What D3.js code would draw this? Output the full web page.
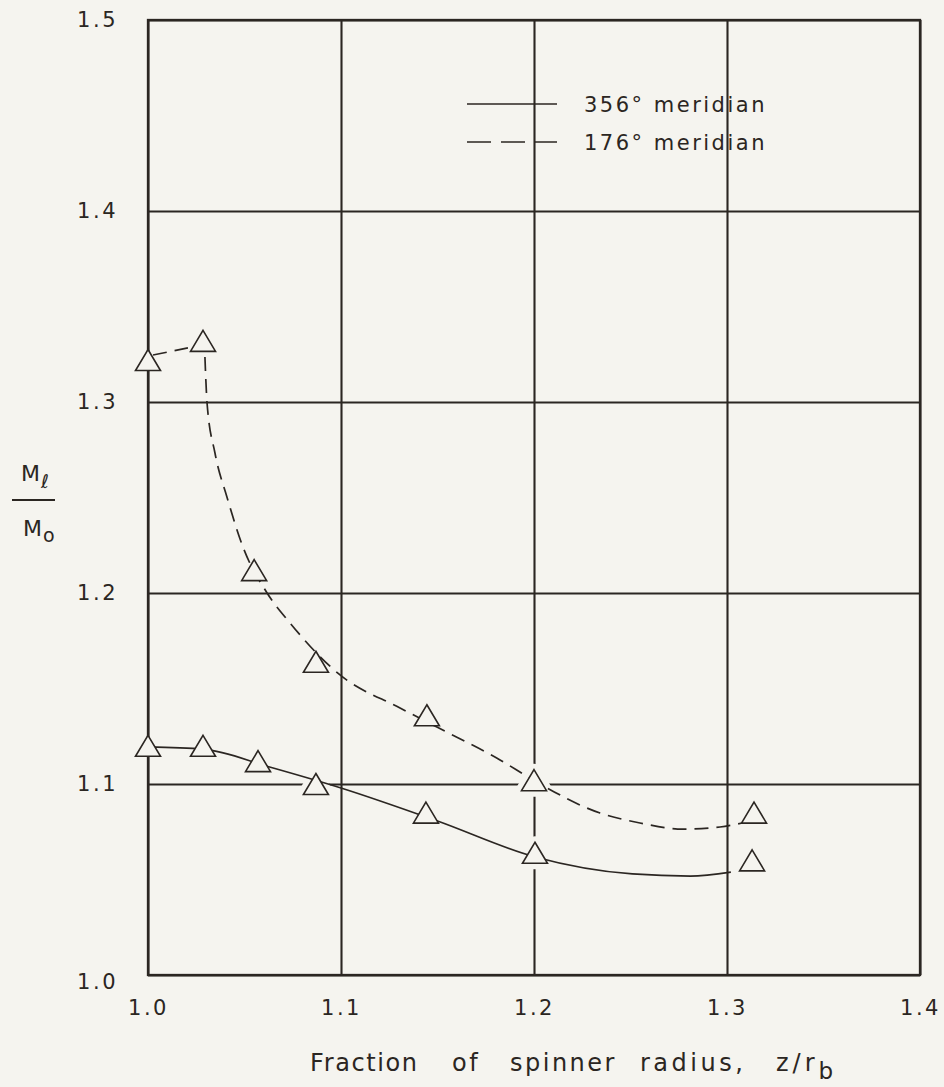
<!DOCTYPE html>
<html>
<head>
<meta charset="utf-8">
<script src="https://cdn.jsdelivr.net/npm/d3@7"></script>
<style>
  html, body { margin: 0; padding: 0; background: #f5f4ef; }
  svg { display: block; }
  text { font-family: "DejaVu Sans", sans-serif; fill: #2b2622; }
</style>
</head>
<body>
<svg id="chart" width="944" height="1087"></svg>
<script>
// Axis ticks
const xTicks = [1.0, 1.1, 1.2, 1.3, 1.4];
const yTicks = [1.0, 1.1, 1.2, 1.3, 1.4, 1.5];

// Measured points (triangles), z/r_b and M_l/M_o
const zMeasured356 = [1.000, 1.0285, 1.057, 1.087, 1.144, 1.2005, 1.313];
const mRatio356    = [1.120, 1.120, 1.112, 1.100, 1.085, 1.064, 1.060];
const zMeasured176 = [1.000, 1.0285, 1.055, 1.087, 1.1445, 1.200, 1.314];
const mRatio176    = [1.322, 1.332, 1.212, 1.164, 1.136, 1.102, 1.085];

// Faired curves through the data
const zFaired356 = [1.000, 1.0285, 1.063, 1.100, 1.150, 1.2005, 1.251, 1.281, 1.302];
const mFaired356 = [1.1194, 1.1183, 1.1089, 1.0979, 1.0806, 1.0618, 1.0529, 1.0518, 1.0539];
// 176° curve: short straight lead between the first two points, then the faired drop
const zLead176 = [1.0026, 1.0207];
const mLead176 = [1.3246, 1.3283];
const zFaired176 = [1.0295, 1.0306, 1.0347, 1.0409, 1.0492, 1.0617, 1.0736,
                    1.0995, 1.1306, 1.1497, 1.1824, 1.1995, 1.2342, 1.2549, 1.2772, 1.2964, 1.3078];
const mFaired176 = [1.3236, 1.2995, 1.2733, 1.2503, 1.2241, 1.2000, 1.1843,
                    1.1571, 1.1398, 1.1298, 1.1126, 1.1021, 1.0848, 1.0796, 1.0764, 1.0775, 1.0796];

const legendLabels = ["356\u00B0 meridian", "176\u00B0 meridian"];
const xTitleWords = ["Fraction", "of", "spinner", "radius,", "z/r"];
const xTitleSub = "b";

const BG = "#f5f4ef";
const INK = "#2b2622";

const svg = d3.select("#chart");

const x = d3.scaleLinear().domain([1.0, 1.4]).range([148, 920]);
const y = d3.scaleLinear().domain([1.0, 1.5]).range([975, 20]);

const fmt = d3.format(".1f");

// Grid + tick labels
const gx = svg.append("g")
  .attr("transform", `translate(0,${y(1.0)})`)
  .call(d3.axisBottom(x).tickValues(xTicks).tickFormat(fmt)
        .tickSize(-(y(1.0) - y(1.5))).tickPadding(25));
const gy = svg.append("g")
  .attr("transform", `translate(${x(1.0)},0)`)
  .call(d3.axisLeft(y).tickValues(yTicks).tickFormat(fmt)
        .tickSize(-(x(1.4) - x(1.0))).tickPadding(30));

[gx, gy].forEach(g => {
  g.select(".domain").remove();
  g.selectAll(".tick line").attr("stroke", INK).attr("stroke-width", 2.1);
  g.selectAll(".tick text")
    .attr("fill", INK)
    .style("font-size", "21px")
    .style("letter-spacing", "2.5px")
    .style("font-family", "\"DejaVu Sans\", sans-serif");
});
// the lowest value label sits a little under its gridline
gy.selectAll(".tick text").filter(d => d === 1.0).attr("dy", "0.62em");

// Frame
svg.append("rect")
  .attr("x", x(1.0)).attr("y", y(1.5))
  .attr("width", x(1.4) - x(1.0)).attr("height", y(1.0) - y(1.5))
  .attr("fill", "none").attr("stroke", INK).attr("stroke-width", 2.3);

// Triangle marker
const tri = "M0,-10.5 L12.5,10.5 L-12.5,10.5 Z";

const pts356 = zMeasured356.map((z, i) => [z, mRatio356[i]]);
const pts176 = zMeasured176.map((z, i) => [z, mRatio176[i]]);
const allPts = pts356.concat(pts176);

// Gridlines are broken around interior symbols
svg.append("g").selectAll("path")
  .data(allPts.filter(d => d[0] > 1.01))
  .join("path")
  .attr("d", tri)
  .attr("transform", d => `translate(${x(d[0])},${y(d[1])})`)
  .attr("fill", BG).attr("stroke", BG).attr("stroke-width", 12)
  .attr("stroke-linejoin", "round");

// Curves
const smooth = d3.line().x(d => x(d[0])).y(d => y(d[1])).curve(d3.curveMonotoneX);
const straight = d3.line().x(d => x(d[0])).y(d => y(d[1]));
const faired356 = zFaired356.map((z, i) => [z, mFaired356[i]]);
const lead176 = zLead176.map((z, i) => [z, mLead176[i]]);
const faired176 = zFaired176.map((z, i) => [z, mFaired176[i]]);

svg.append("path").attr("d", smooth(faired356))
  .attr("fill", "none").attr("stroke", INK).attr("stroke-width", 1.7);
svg.append("path").attr("d", straight(lead176))
  .attr("fill", "none").attr("stroke", INK).attr("stroke-width", 1.7)
  .attr("stroke-dasharray", "14,8");
svg.append("path").attr("d", smooth(faired176))
  .attr("fill", "none").attr("stroke", INK).attr("stroke-width", 1.7)
  .attr("stroke-dasharray", "14,8");

// Symbols
svg.append("g").selectAll("path")
  .data(allPts)
  .join("path")
  .attr("d", tri)
  .attr("transform", d => `translate(${x(d[0])},${y(d[1])})`)
  .attr("fill", BG).attr("stroke", INK).attr("stroke-width", 1.6)
  .attr("stroke-linejoin", "miter");

// Legend
const legend = svg.append("g");
const legendRows = [
  { label: legendLabels[0], dash: null, ly: 104 },
  { label: legendLabels[1], dash: "24,10", ly: 142 }
];
legendRows.forEach(r => {
  legend.append("line")
    .attr("x1", 467).attr("x2", 557).attr("y1", r.ly).attr("y2", r.ly)
    .attr("stroke", INK).attr("stroke-width", 1.7)
    .attr("stroke-dasharray", r.dash);
  legend.append("text")
    .attr("x", 584).attr("y", r.ly + 8)
    .style("font-size", "21px")
    .style("letter-spacing", "2.5px")
    .text(r.label);
});

// X axis title, words spread across the bottom in wide lettering
const titleX = [310, 452, 510, 640, 776];
const titleSpacing = [1.6, 2.5, 2.5, 3.5, 4];
const xt = svg.append("text")
  .attr("y", 1071)
  .style("font-size", "24px");
xTitleWords.forEach((w, i) => {
  xt.append("tspan")
    .attr("x", titleX[i]).attr("y", 1071)
    .style("letter-spacing", titleSpacing[i] + "px")
    .text(w);
});
xt.append("tspan").attr("dy", 8).style("letter-spacing", "0px").style("font-size", "23px").text(xTitleSub);

// Y axis title (fraction)
const yl = svg.append("g");
const numer = yl.append("text").attr("x", 21).attr("y", 481).style("font-size", "22px");
numer.append("tspan").text("M");
numer.append("tspan").attr("dy", 7).attr("dx", 1).style("font-size", "19px").style("font-style", "italic").text("\u2113");
yl.append("line").attr("x1", 12).attr("x2", 55).attr("y1", 500).attr("y2", 500)
  .attr("stroke", INK).attr("stroke-width", 1.8);
const denom = yl.append("text").attr("x", 23).attr("y", 536).style("font-size", "22px");
denom.append("tspan").text("M");
denom.append("tspan").attr("dy", 6).attr("dx", 1).style("font-size", "19px").text("o");
</script>
</body>
</html>
